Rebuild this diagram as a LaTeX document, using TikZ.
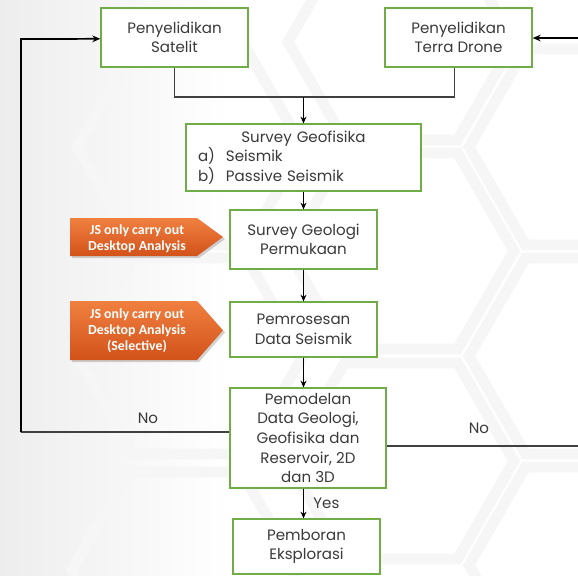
\documentclass[tikz,border=0pt]{standalone}
\usepackage{fontspec}
\setmainfont{Poppins}
\newfontfamily\jsfont{Carlito}
\usetikzlibrary{arrows.meta,shadows,calc}
\definecolor{boxgreen}{HTML}{70AD47}
\definecolor{txtgray}{HTML}{3A3A3A}
\definecolor{linegray}{HTML}{404040}
\definecolor{orTop}{HTML}{F08040}
\definecolor{orBot}{HTML}{D2521A}
\newcommand{\hexat}[2]{\draw[hexline] (#1+113,#2) -- ++(-56.5,98) -- ++(-113,0) -- ++(-56.5,-98) -- ++(56.5,-98) -- ++(113,0) -- cycle;}
\tikzset{
  hexline/.style={draw=black!3.5, line width=8pt, line join=miter},
  flowbox/.style={draw=boxgreen, line width=1pt, fill=white, inner sep=0pt, align=center,
     text=txtgray, font=\fontsize{11.3}{14.7}\selectfont},
  conn/.style={draw=linegray, line width=0.8pt},
  arr/.style={draw=black, line width=0.8pt, -{Stealth[length=5pt,width=4.5pt]}},
  fbarr/.style={draw=black, line width=1.3pt, -{Stealth[length=6pt,width=5pt]}},
  lbl/.style={text=txtgray, font=\fontsize{11.3}{13}\selectfont, inner sep=0pt},
  jsbox/.style={top color=orTop, bottom color=orBot, drop shadow={opacity=0.35, shadow xshift=1.5pt, shadow yshift=-1.5pt}},
  jstext/.style={text=white, align=center, font=\jsfont\bfseries\fontsize{10.4}{12}\selectfont, inner sep=0pt}
}
\begin{document}
\begin{tikzpicture}[x=0.75pt, y=-0.75pt]
% background
\useasboundingbox (0,0) rectangle (578,575);
\fill[white] (0,0) rectangle (578,575);
\shade[left color=black!7, right color=white] (0,0) rectangle (230,575);
\hexat{582}{147}\hexat{582}{356}\hexat{582}{565}
\hexat{401}{42}\hexat{401}{251}\hexat{401}{461}
\hexat{190}{147}\hexat{190}{356}\hexat{185}{570}

% boxes
\node[flowbox, minimum width=110.25pt, minimum height=44.25pt] (sat) at (174.5,37.5) {Penyelidikan\\Satelit};
\node[flowbox, minimum width=110.25pt, minimum height=44.25pt] (ter) at (458.5,37.5) {Penyelidikan\\Terra Drone};
\node[flowbox, minimum width=176.25pt, minimum height=50.25pt, text width=158.25pt, align=left] (geo) at (303.5,157.5)
  {\makebox[\linewidth]{Survey Geofisika}\\\makebox[21pt][l]{a)}Seismik\\\makebox[21pt][l]{b)}Passive Seismik};
\node[flowbox, minimum width=110.25pt, minimum height=44.25pt] (sgp) at (303.5,239.5) {Survey Geologi\\Permukaan};
\node[flowbox, minimum width=110.25pt, minimum height=41.25pt] (pds) at (303.5,329.5) {Pemrosesan\\Data Seismik};
\node[flowbox, minimum width=117pt, minimum height=75pt] (pem) at (308,438) {Pemodelan\\Data Geologi,\\Geofisika dan\\Reservoir, 2D\\dan 3D};
\node[flowbox, minimum width=110.25pt, minimum height=41.25pt] (bor) at (306.5,546.5) {Pemboran\\Eksplorasi};

% orange notes
\path[jsbox] (70,218) -- (197,218) -- (223,237) -- (197,256) -- (70,256) -- cycle;
\node[jstext] (js1) at (137,238.5) {JS only carry out\\Desktop Analysis};
\path[jsbox] (70,301) -- (197,301) -- (223,330.5) -- (197,360) -- (70,360) -- cycle;
\node[jstext] (js2) at (137,331) {JS only carry out\\Desktop Analysis\\(Selective)};

% merge of the two surveys
\coordinate (jn) at (303.5,97);
\draw[conn] (sat.south) |- (jn) -| ([xshift=-3pt]ter.south);
\draw[arr] (jn) -- (geo.north);
\draw[arr] (geo.south) -- (sgp.north);
\draw[arr] (sgp.south) -- (pds.north);
\draw[arr] (pds.south) -- (pds.south |- pem.north);
\draw[arr] (pds.south |- pem.south) -- node[lbl, right=7pt] {Yes} (pds.south |- bor.north);

% feedback loops
\coordinate (L1) at (21,432);
\coordinate (L2) at (21,39);
\draw[conn] ([yshift=4.5pt]pem.west) -- (L1);
\draw[fbarr] (L1) -- (L2) -- ([yshift=-1pt]sat.west);
\node[lbl] (no1) at (148,418) {No};
\coordinate (R1) at (578,446);
\coordinate (R2) at (578,38);
\draw[conn] ([yshift=-6pt]pem.east) -- (R1);
\draw[fbarr] (R2) -- ([yshift=-0.4pt]ter.east);
\node[lbl] (no2) at (479,428) {No};
\end{tikzpicture}
\end{document}
